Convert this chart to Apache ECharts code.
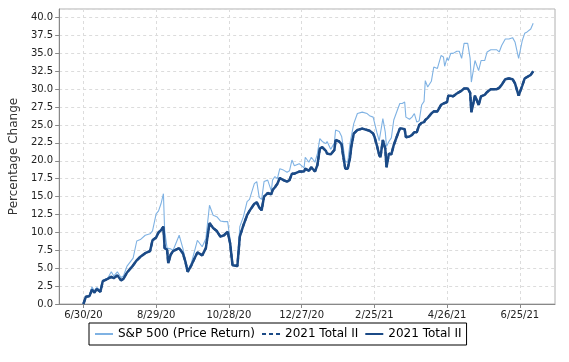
<!DOCTYPE html>
<html><head><meta charset="utf-8">
<script src="https://cdn.jsdelivr.net/npm/echarts@6/dist/echarts.min.js"></script>
<style>html,body{margin:0;padding:0;background:#fff}#c{width:569px;height:362px}</style>
</head><body><div id="c"></div>
<script>
const tickLabels = ['6/30/20','8/29/20','10/28/20','12/27/20','2/25/21','4/26/21','6/25/21'];
const seriesNames = ['S&P 500 (Price Return)', '2021 Total II\u200b', '2021 Total II'];
const dates = ['6/30/20','7/2/20','7/5/20','7/7/20','7/9/20','7/11/20','7/14/20','7/16/20','7/20/20','7/23/20','7/25/20','7/28/20','7/31/20','8/2/20','8/5/20','8/10/20','8/13/20','8/16/20','8/20/20','8/24/20','8/26/20','8/29/20','8/31/20','9/2/20','9/4/20','9/5/20','9/7/20','9/8/20','9/10/20','9/12/20','9/17/20','9/20/20','9/22/20','9/24/20','9/27/20','9/30/20','10/2/20','10/6/20','10/9/20','10/12/20','10/15/20','10/18/20','10/21/20','10/24/20','10/27/20','10/29/20','10/31/20','11/4/20','11/6/20','11/9/20','11/12/20','11/14/20','11/18/20','11/20/20','11/22/20','11/24/20','11/26/20','11/29/20','12/2/20','12/3/20','12/5/20','12/7/20','12/9/20','12/12/20','12/15/20','12/17/20','12/19/20','12/21/20','12/25/20','12/29/20','12/30/20','1/2/21','1/4/21','1/7/21','1/9/21','1/11/21','1/13/21','1/16/21','1/17/21','1/20/21','1/23/21','1/24/21','1/27/21','1/29/21','1/30/21','2/1/21','2/3/21','2/5/21','2/6/21','2/8/21','2/11/21','2/15/21','2/19/21','2/21/21','2/24/21','2/25/21','2/27/21','3/1/21','3/2/21','3/4/21','3/6/21','3/7/21','3/9/21','3/11/21','3/13/21','3/16/21','3/18/21','3/20/21','3/22/21','3/23/21','3/26/21','3/28/21','3/30/21','4/1/21','4/3/21','4/5/21','4/7/21','4/8/21','4/10/21','4/13/21','4/15/21','4/18/21','4/21/21','4/23/21','4/24/21','4/26/21','4/27/21','4/29/21','5/1/21','5/4/21','5/6/21','5/8/21','5/10/21','5/13/21','5/15/21','5/16/21','5/19/21','5/22/21','5/24/21','5/27/21','5/29/21','6/1/21','6/6/21','6/8/21','6/10/21','6/13/21','6/16/21','6/19/21','6/21/21','6/24/21','6/25/21','6/27/21','6/29/21','7/1/21','7/4/21','7/6/21'];
const sp500 = [0.0,1.0,1.1,2.4,1.8,2.3,1.9,3.3,3.6,4.5,3.9,4.5,3.7,3.9,5.3,6.4,8.8,9.0,9.6,9.8,10.2,12.6,13.0,14.0,15.4,10.3,7.8,7.6,7.7,7.5,9.6,7.8,6.2,4.6,5.7,7.6,8.9,8.0,9.1,13.8,12.4,12.2,11.6,11.5,11.5,9.0,5.4,5.4,10.8,12.2,14.3,14.6,16.8,17.1,14.9,14.6,17.1,17.3,15.8,17.3,17.8,17.5,18.9,18.7,18.4,18.6,20.1,19.3,19.6,19.0,20.5,19.8,20.5,19.8,21.0,23.1,22.7,22.4,22.7,21.6,22.5,24.3,24.1,23.4,22.3,19.9,19.8,22.5,23.4,25.2,26.6,26.8,26.6,26.3,26.1,25.9,24.0,22.8,22.7,25.9,24.0,22.0,22.7,23.2,25.7,27.1,28.0,28.0,28.2,26.1,25.8,26.1,26.6,25.4,25.6,27.8,28.3,31.2,30.3,31.1,33.1,32.9,34.7,34.5,33.2,34.4,34.0,35.0,35.0,35.3,35.3,34.3,36.4,36.4,34.3,31.0,34.0,32.6,34.0,34.0,35.2,35.5,35.5,35.2,36.1,37.0,37.0,37.2,36.6,34.3,34.4,36.8,37.8,38.0,38.4,39.2];
const total2021 = [0.0,1.0,1.1,2.0,1.6,2.1,1.7,3.2,3.5,3.8,3.6,4.0,3.3,3.5,4.4,5.4,6.1,6.6,7.1,7.4,8.9,9.3,10.0,10.3,10.8,7.8,7.6,5.7,6.9,7.4,7.8,7.1,6.0,4.5,5.4,6.5,7.2,6.8,7.8,11.3,10.6,10.2,9.4,9.6,10.1,8.5,5.4,5.3,9.4,11.0,12.4,13.0,14.0,14.2,13.5,13.1,15.0,15.5,15.3,15.9,16.3,16.8,17.6,17.3,17.1,17.3,18.2,18.2,18.5,18.5,18.9,18.6,19.1,18.5,19.4,21.7,21.9,21.4,21.0,20.9,21.5,22.9,22.7,22.3,21.0,18.9,18.9,20.5,22.0,23.8,24.3,24.5,24.3,24.2,23.8,23.4,22.2,20.8,20.5,22.9,21.7,19.1,21.0,20.9,22.2,23.6,24.5,24.5,24.4,23.3,23.4,23.6,24.0,24.0,25.0,25.3,25.4,25.7,26.0,26.6,26.9,26.9,27.8,28.0,27.9,28.2,29.1,29.1,29.0,29.4,29.6,29.8,30.1,30.1,29.5,26.8,29.1,27.8,29.0,29.2,29.6,30.0,30.0,30.2,30.6,31.4,31.5,31.4,30.8,29.1,29.2,30.5,31.5,31.7,32.0,32.5];

function fmt(d){return (d.getUTCMonth()+1)+'/'+d.getUTCDate()+'/'+String(d.getUTCFullYear()).slice(2);}
const categories = [];
for (let t = Date.UTC(2020,5,10); t <= Date.UTC(2021,6,24); t += 86400000) categories.push(fmt(new Date(t)));
const isTick = (i, v) => tickLabels.indexOf(v) >= 0;
const pairs = arr => dates.map((d, i) => [d, arr[i]]);

const font = 'DejaVu Sans';
const chart = echarts.init(document.getElementById('c'), null, {renderer: 'canvas'});
chart.setOption({
  animation: false,
  backgroundColor: '#fff',
  grid: {left: 53, right: 14, top: 9, bottom: 58, show: true, borderColor: '#b0b0b0', borderWidth: 1},
  legend: {
    left: 89, top: 323, padding: [5, 5], itemGap: 6, itemWidth: 18, itemHeight: 10,
    borderColor: '#000', borderWidth: 1,
    itemStyle: {opacity: 0},
    textStyle: {fontFamily: font, fontSize: 12, color: '#000'},
    formatter: n => n.replace('\u200b', ''),
    data: seriesNames
  },
  xAxis: {
    type: 'category', data: categories, boundaryGap: false,
    axisLine: {lineStyle: {color: '#888'}},
    axisTick: {interval: isTick, length: 4, lineStyle: {color: '#888'}},
    axisLabel: {interval: isTick, margin: 6, fontFamily: font, fontSize: 10, color: '#222'},
    splitLine: {show: true, interval: isTick, lineStyle: {color: '#dcdcdc', type: [3, 3]}}
  },
  yAxis: {
    type: 'value', min: 0, max: 41.2, interval: 2.5,
    name: 'Percentage Change', nameLocation: 'middle', nameGap: 34,
    nameTextStyle: {fontFamily: font, fontSize: 12, color: '#333'},
    axisLine: {show: true, lineStyle: {color: '#888'}},
    axisTick: {show: true, length: 4, lineStyle: {color: '#888'}},
    axisLabel: {margin: 6, fontFamily: font, fontSize: 10, color: '#222', showMaxLabel: false,
      formatter: v => v.toFixed(1)},
    splitLine: {show: true, lineStyle: {color: '#dcdcdc', type: [3, 3]}}
  },
  series: [
    {name: seriesNames[0], type: 'line', data: pairs(sp500), symbol: 'none', z: 3,
     lineStyle: {color: '#7fb2e3', width: 1.1}, itemStyle: {color: '#7fb2e3'}},
    {name: seriesNames[1], type: 'line', data: pairs(total2021), symbol: 'none', z: 2,
     lineStyle: {color: '#1b4a86', width: 2.2, type: [4, 3]}, itemStyle: {color: '#1b4a86'}},
    {name: seriesNames[2], type: 'line', data: pairs(total2021), symbol: 'none', z: 4,
     lineStyle: {color: '#1b4a86', width: 2.5}, itemStyle: {color: '#1b4a86'}}
  ]
});
</script>
</body></html>
